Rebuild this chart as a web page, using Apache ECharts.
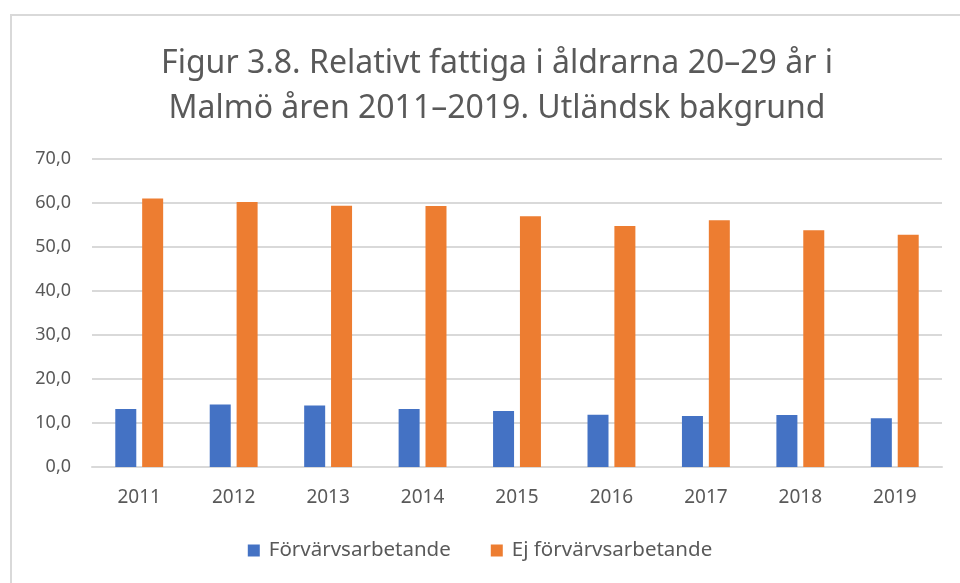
<!DOCTYPE html>
<html>
<head>
<meta charset="utf-8">
<script src="https://cdn.jsdelivr.net/npm/echarts@6/dist/echarts.min.js"></script>
<style>
  html, body { margin: 0; padding: 0; background: #fff; }
  #chart { width: 960px; height: 583px; }
</style>
</head>
<body>
<div id="chart"></div>
<script>
const years = ['2011', '2012', '2013', '2014', '2015', '2016', '2017', '2018', '2019'];
const employed = [13.2, 14.2, 14.0, 13.2, 12.7, 11.9, 11.6, 11.8, 11.1];
const notEmployed = [61.0, 60.2, 59.4, 59.3, 57.0, 54.8, 56.1, 53.8, 52.8];
const seriesNames = ['Förvärvsarbetande', 'Ej förvärvsarbetande'];

const font = 'Noto Sans';
const textColor = '#595959';

const chart = echarts.init(document.getElementById('chart'));
chart.setOption({
  animation: false,
  backgroundColor: '#fff',
  graphic: [
    {
      type: 'rect',
      shape: { x: 11, y: 15, width: 1000, height: 1000 },
      style: { fill: 'none', stroke: '#d9d9d9', lineWidth: 2 },
      silent: true,
    },
  ],
  title: {
    text: 'Figur 3.8. Relativt fattiga i åldrarna 20–29 år i\nMalmö åren 2011–2019. Utländsk bakgrund',
    left: 492,
    textAlign: 'center',
    top: 36,
    textStyle: {
      fontFamily: font,
      fontSize: 32,
      fontWeight: 'normal',
      color: textColor,
      lineHeight: 45,
    },
  },
  legend: {
    bottom: 17,
    left: 'center',
    itemWidth: 12,
    itemHeight: 12,
    itemGap: 40,
    icon: 'rect',
    textStyle: { fontFamily: font, fontSize: 20.5, color: textColor, padding: [0, 0, 0, 4] },
    data: seriesNames,
  },
  grid: { left: 92, right: 18, top: 159, bottom: 116 },
  xAxis: {
    type: 'category',
    data: years,
    axisLine: { show: true, lineStyle: { color: '#d9d9d9', width: 2 } },
    axisTick: { show: false },
    axisLabel: { color: textColor, fontFamily: font, fontSize: 19, margin: 21 },
  },
  yAxis: {
    type: 'value',
    min: 0,
    max: 70,
    interval: 10,
    axisLine: { show: false },
    axisTick: { show: false },
    axisLabel: {
      color: textColor,
      fontFamily: font,
      fontSize: 18,
      margin: 21,
      formatter: (v) => v.toFixed(1).replace('.', ','),
    },
    splitLine: { lineStyle: { color: '#d9d9d9', width: 2 } },
  },
  series: [
    {
      name: seriesNames[0],
      type: 'bar',
      data: employed,
      barWidth: 21,
      barGap: '28%',
      itemStyle: { color: '#4472c4' },
    },
    {
      name: seriesNames[1],
      type: 'bar',
      data: notEmployed,
      barWidth: 21,
      itemStyle: { color: '#ed7d31' },
    },
  ],
});
</script>
</body>
</html>
